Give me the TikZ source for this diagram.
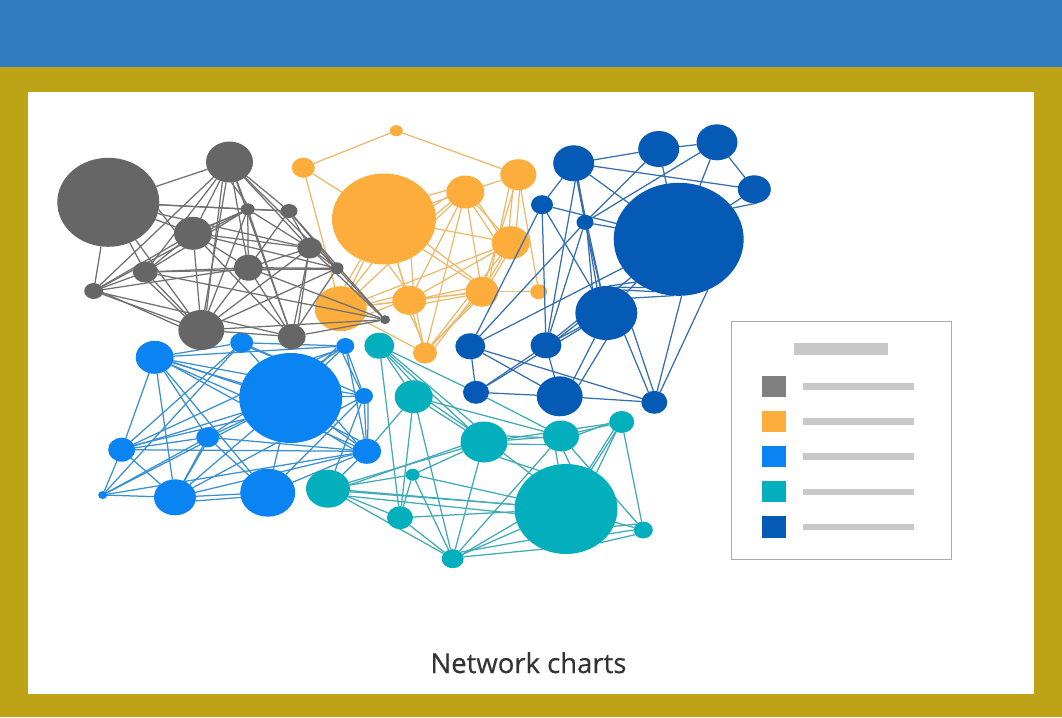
\documentclass[tikz,border=0pt]{standalone}
\usepackage{fontspec}
\setmainfont{Open Sans}
\newfontfamily\titlefont[FakeBold=0.35]{Open Sans}
\usetikzlibrary{shapes.geometric}
\definecolor{topblue}{HTML}{2E7CBF}
\definecolor{olive}{HTML}{BFA316}
\definecolor{cgray}{HTML}{666666}
\definecolor{corange}{HTML}{FDAD3C}
\definecolor{cblue}{HTML}{0B84F3}
\definecolor{cteal}{HTML}{03AFBC}
\definecolor{cdark}{HTML}{055AB5}
\definecolor{lgray}{HTML}{707070}
\definecolor{lorange}{HTML}{ECBA6C}
\definecolor{lblue}{HTML}{3A8FD0}
\definecolor{lteal}{HTML}{40AAB6}
\definecolor{ldark}{HTML}{366FAE}
\definecolor{bar}{HTML}{C8C8C8}
\definecolor{legendedge}{HTML}{ABABAB}
\pgfdeclarelayer{bg}
\pgfdeclarelayer{oe}\pgfdeclarelayer{on}
\pgfdeclarelayer{me}\pgfdeclarelayer{mn}
\pgfdeclarelayer{de}\pgfdeclarelayer{dn}
\pgfdeclarelayer{te}\pgfdeclarelayer{tn}
\pgfdeclarelayer{ge}\pgfdeclarelayer{gn}
\pgfsetlayers{bg,oe,on,me,mn,de,dn,te,tn,ge,gn,main}
\tikzset{
  dot/.style={ellipse,inner sep=0pt,outer sep=0pt,draw=none},
  gn/.style={dot,fill=cgray},
  orn/.style={dot,fill=corange},
  mn/.style={dot,fill=cblue},
  dn/.style={dot,fill=cdark},
  tn/.style={dot,fill=cteal},
  edgeline/.style={line width=1.25pt},
  swatch/.style={inner sep=0pt,outer sep=0pt,minimum width=24pt,minimum height=21.5pt},
  greybar/.style={inner sep=0pt,outer sep=0pt,fill=bar,minimum width=111pt,minimum height=6.5pt},
}
\newcommand{\blob}[6]{\node[#1,minimum width=#5pt,minimum height=#6pt] (#2) at (#3,#4) {};}
\begin{document}
\begin{tikzpicture}[x=1pt,y=-1pt]
\useasboundingbox (0,0) rectangle (1062,717);
\begin{pgfonlayer}{bg}
\fill[olive] (0,0) rectangle (1062,717);
\fill[topblue] (0,0) rectangle (1062,67);
\fill[white] (28,92) rectangle (1034,694);
\end{pgfonlayer}

\begin{pgfonlayer}{on}
\blob{orn}{o1}{396.3}{130.7}{13}{11}
\blob{orn}{o2}{303.3}{167.7}{23}{20}
\blob{orn}{o3}{384}{219}{104}{91}
\blob{orn}{o4}{465.3}{192}{38}{33}
\blob{orn}{o5}{518.3}{174.7}{36}{31}
\blob{orn}{o6}{510.7}{242.7}{38}{33}
\blob{orn}{o7}{340.7}{308.7}{52}{45}
\blob{orn}{o8}{409.3}{300.3}{34}{29}
\blob{orn}{o9}{482}{291.7}{33}{30}
\blob{orn}{o10}{538.7}{291.7}{17}{15}
\blob{orn}{o11}{425}{353}{24}{21}
\end{pgfonlayer}
\begin{pgfonlayer}{gn}
\blob{gn}{g1}{108.3}{202.3}{102}{89}
\blob{gn}{g2}{229.5}{162}{47}{41}
\blob{gn}{g3}{247.7}{209.3}{14}{12}
\blob{gn}{g4}{289}{211}{17}{14}
\blob{gn}{g5}{193}{233.3}{38}{33}
\blob{gn}{g6}{309.7}{248}{25}{21}
\blob{gn}{g7}{248.3}{267.7}{29}{26}
\blob{gn}{g8}{145.3}{272}{25}{21}
\blob{gn}{g9}{337}{268.3}{13}{12}
\blob{gn}{g10}{93.7}{291}{19}{16}
\blob{gn}{g11}{201.3}{330}{46}{40}
\blob{gn}{g12}{291.7}{336.7}{28}{25}
\blob{gn}{g13}{385}{319.7}{10}{9}
\end{pgfonlayer}
\begin{pgfonlayer}{dn}
\blob{dn}{b1}{573.7}{163.3}{41}{36}
\blob{dn}{b2}{658.7}{149}{41}{36}
\blob{dn}{b3}{717}{142.3}{41}{36}
\blob{dn}{b4}{754.3}{189.3}{33}{28}
\blob{dn}{b5}{678.7}{239.3}{130}{113}
\blob{dn}{b6}{542}{204.7}{22}{19}
\blob{dn}{b7}{585}{222.3}{17}{15}
\blob{dn}{b8}{606.3}{313}{62}{54}
\blob{dn}{b9}{470.3}{346.3}{30}{26}
\blob{dn}{b10}{546}{345.3}{31}{26}
\blob{dn}{b11}{476}{392.3}{26}{23}
\blob{dn}{b12}{559.7}{396.3}{46}{40}
\blob{dn}{b13}{654.3}{402.3}{26}{23}
\end{pgfonlayer}
\begin{pgfonlayer}{mn}
\blob{mn}{m1}{154.7}{357.3}{38}{33}
\blob{mn}{m2}{241.7}{342.7}{23}{20}
\blob{mn}{m3}{345.3}{346}{18}{16}
\blob{mn}{m4}{290.7}{398}{103}{90}
\blob{mn}{m5}{364}{396}{18}{16}
\blob{mn}{m6}{121.7}{449.7}{27}{24}
\blob{mn}{m7}{207.7}{437.3}{23}{20}
\blob{mn}{m8}{366.7}{451.3}{29}{25}
\blob{mn}{m9}{102.7}{495}{9}{8}
\blob{mn}{m10}{175}{497.3}{42}{36}
\blob{mn}{m11}{267.7}{492.7}{55}{48}
\end{pgfonlayer}
\begin{pgfonlayer}{tn}
\blob{tn}{t1}{379.3}{345.7}{30}{26}
\blob{tn}{t2}{413.7}{396.7}{38}{33}
\blob{tn}{t3}{484}{442}{47}{41}
\blob{tn}{t4}{561}{436}{36}{31}
\blob{tn}{t5}{621.7}{422}{25}{22}
\blob{tn}{t6}{328}{488.7}{44}{38}
\blob{tn}{t7}{412.7}{474.7}{14}{12}
\blob{tn}{t8}{566}{509}{103}{90}
\blob{tn}{t9}{400}{517.7}{26}{23}
\blob{tn}{t10}{643.3}{530}{19}{17}
\blob{tn}{t11}{452.7}{558.7}{22}{19}
\end{pgfonlayer}

\begin{pgfonlayer}{oe}
\foreach \a/\b in {o1/o2,o1/o5,o2/o3,o2/o7,
 o3.28/o4.175,o3.15/o4.195,o3.5/o4.215,o3/o4,o3.-30/o9.125,o3.-38/o9.135,o3/o6,
 o3.-120/o7.80,o3.-105/o7.60,o3/o7,o3.-85/o8.110,o3.-55/o8.75,o3/o8,o3/o11,
 o4/o5,o4/o6,o4.-40/o6.140,o4.-60/o6.160,o4/o9,o4/o8,o4/o7,o4/o11,
 o5.-110/o6.95,o5.-85/o6.70,o5/o9,o5/o10,o5.-125/o9.60,
 o6/o9,o6/o8,o6/o7,o6/o11,o6.-110/o9.50,
 o7.10/o8.170,o7/o8,o7.-15/o8.195,o7/o9,o7/o11,
 o8.10/o9.170,o8/o9,o8.-10/o9.195,o8.-60/o11,o8.-85/o11.100,
 o9/o10,o9/o11,o9.-125/o11.50,o9.-140/o11.30}
  \draw[edgeline,lorange] (\a) -- (\b);
\end{pgfonlayer}
\begin{pgfonlayer}{ge}
\foreach \a/\b in {g1/g2,g1/g3,g1/g4,g1/g5,g1.-8/g5.170,g1/g6,g1/g8,g1/g10,g1/g11,
 g2/g3,g2.-85/g3.100,g2/g4,g2/g5,g2/g6,g2/g9,g2/g8,g2/g10,g2/g11,g2.-110/g11.75,g2/g7,g2/g12,
 g3/g4,g3/g5,g3.-150/g5.25,g3/g6,g3/g7,g3/g8,g3/g10,g3/g11,g3/g12,
 g4/g6,g4/g7,g4/g9,g4/g13,g5/g6,g5/g7,g5/g8,g5/g9,g5/g10,g5/g11,g5/g12,
 g6/g7,g6/g9,g6.-20/g9.140,g6/g11,g6/g12,g6.-100/g12.60,g6/g13,g7/g8,g7/g9,g7.-5/g9.190,g7/g11,g7/g12,g7/g13,
 g8/g9,g8/g10,g8.-70/g11.140,g8/g11,g8/g13,g9/g11,g9/g12,g9/g13,g10/g11,g10.-10/g11.170,g10/g12,g10/g7,g11/g12,g11/g13,g12/g13}
  \draw[edgeline,lgray] (\a) -- (\b);
\end{pgfonlayer}
\begin{pgfonlayer}{de}
\foreach \a/\b in {b1/b2,b1/b4,b1/b5,b1/b6,b1/b7,b1/b8,b1.-75/b8.110,b1.-85/b10,b2/b3,b2/b5,b2/b7,b3/b4,b3/b5,b3/b7,b4/b5,b4.-80/b5.30,
 b6/b5,b6/b8,b6/b10,b6/b9,b7/b5,b7.-75/b8.120,b7/b8,b7/b10,b7/b9,b5/b8,b5.-125/b8.70,b5.-115/b8.55,b5.-95/b8.30,b5.-135/b8.85,b5/b9,b5/b10,b5.-87/b13,b5.-60/b13.60,
 b8/b10,b8.-160/b10.30,b8.-115/b12.50,b8.-90/b12.30,b8.-50/b13.120,b8.-30/b13.95,b8/b11,b9/b11,b9/b12,b9/b13,b10/b11,b10/b12,b11/b12,b12/b13}
  \draw[edgeline,ldark] (\a) -- (\b);
\end{pgfonlayer}
\begin{pgfonlayer}{me}
\foreach \a/\b in {m1/m2,m1/m3,m1/m4,m1.-15/m4.165,m1.-25/m4.185,m1/m5,m1/m8,m1/m6,m1/m10,m1/m11,m1/m7,m2/m3,m2/m4,m2.-30/m4.115,m2/m5,m2/m9,m2/m6,
 m3/m4,m3.-170/m4.48,m3.-150/m4.60,m3/m5,m3.-110/m5.120,m3/m8,m3/m6,m3/m7,m4/m5,m4/m6,m4.-155/m6.20,m4/m7,m4/m8,m4.-35/m8.125,m4.-25/m8.140,m4.-45/m8.170,m4/m9,m4/m10,m4/m11,m5/m8,m5.-60/m8.85,m5/m10,m5/m11,m5/t6,
 m6/m7,m6/m8,m6/m9,m6/m10,m7/m8,m7/m9,m7/m10,m7.-110/m10.60,m7/m11,m8/m10,m8/m11,m8/m9,m8/t6,m9/m10,m10/m11,m10.-10/m11.190}
  \draw[edgeline,lblue] (\a) -- (\b);
\end{pgfonlayer}
\begin{pgfonlayer}{te}
\foreach \a/\b in {t1/t2,t1.-50/t2.100,t1/t3,t1.-35/t3.120,t1/t9,t1/b11,b11/t4,t2/t3,t2.-20/t3.140,t2/t4,t2/t9,t2/t11,t2/m8,t3/t4,t3.15/t4.185,t3.-5/t4.210,t3/t5,t3/t6,t3.190/t6.10,t3/t7,t3.-45/t8.125,t3.-30/t8.135,t3/t11,
 t4.-110/t8.100,t4.-80/t8.85,t4/t5,t4.5/t5.185,t4/t10,t4/t11,t5/t8,t5.-135/t8.60,t5.-120/t8.50,t5/t10,t6/t7,t6/t8,t6.-8/t8.175,t6.-20/t8.185,t6/t9,t6/t11,t7/t8,t7/t9,t7/t11,t8/t9,t8/t10,t8.-20/t10.140,t8.-30/t10.180,t8.-45/t10.210,t8/t11,t8.-140/t11.40,t8.-165/t11.25,t8.-120/t11.10,t9/t11}
  \draw[edgeline,lteal] (\a) -- (\b);
\end{pgfonlayer}

\node[draw=legendedge,line width=1pt,fill=white,inner sep=0pt,minimum width=220pt,minimum height=238pt] (legend) at (841,440) {};
\node[inner sep=0pt,fill=bar,minimum width=94pt,minimum height=12.5pt] (legendhead) at (841,349) {};
\node[swatch,fill=gray] (s1) at (774.3,386.5) {};
\node[swatch,fill=corange] (s2) at (774.3,421.5) {};
\node[swatch,fill=cblue] (s3) at (774.3,456.3) {};
\node[swatch,fill=cteal] (s4) at (774.3,491.5) {};
\node[swatch,fill=cdark] (s5) at (774.3,527) {};
\node[greybar] (l1) at (858.5,386.5) {};
\node[greybar] (l2) at (858.5,421.5) {};
\node[greybar] (l3) at (858.5,456.5) {};
\node[greybar] (l4) at (858.5,492) {};
\node[greybar] (l5) at (858.5,527) {};
\node[anchor=base,inner sep=0pt,text=black!80,font=\titlefont\fontsize{27.5}{30}\selectfont] (title) at (528.5,673) {Network charts};
\end{tikzpicture}
\end{document}
